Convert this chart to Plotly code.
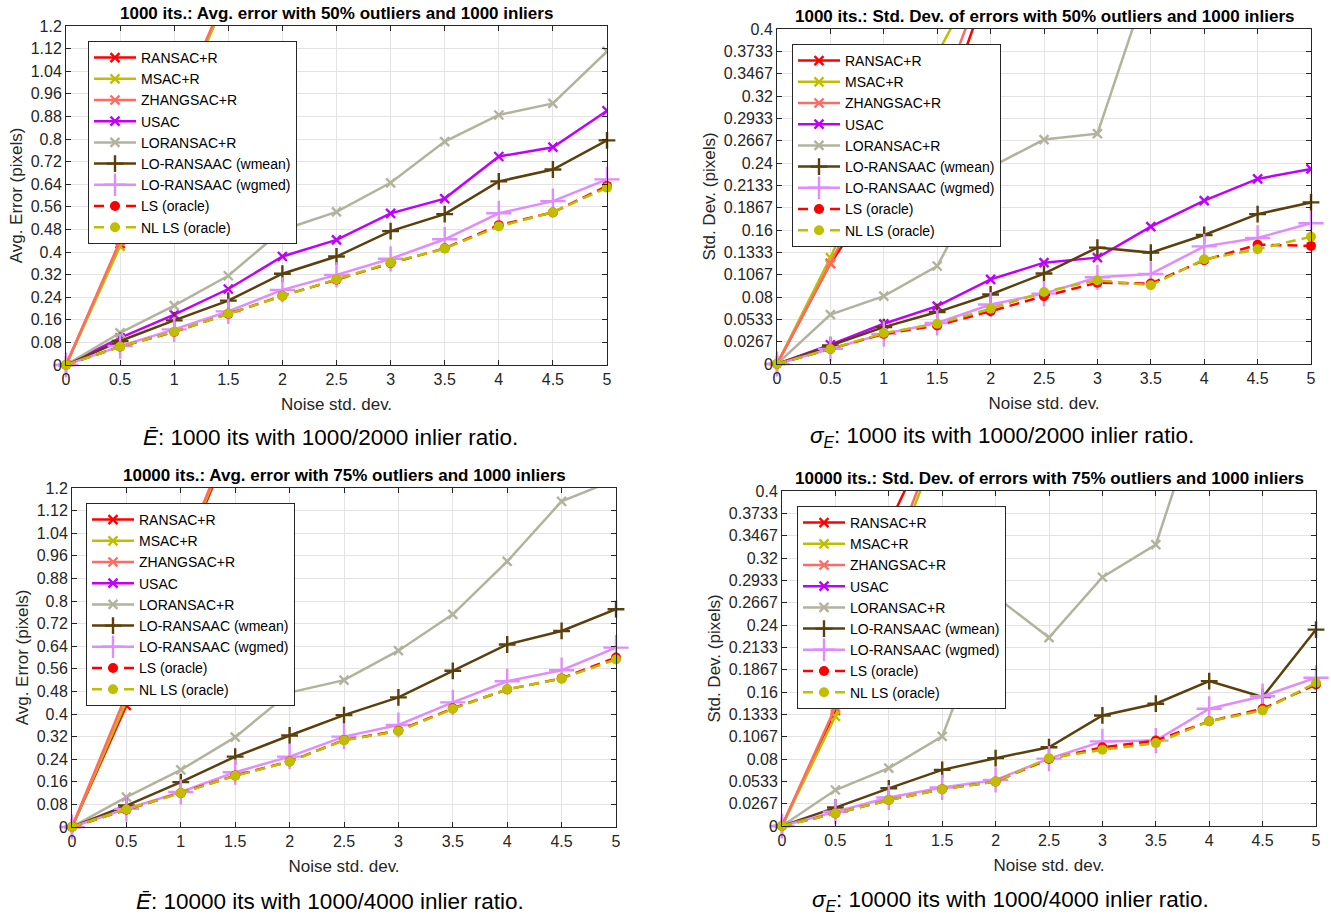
import plotly.graph_objects as go

# ---------------- data ----------------
noise = [0, 0.5, 1, 1.5, 2, 2.5, 3, 3.5, 4, 4.5, 5]

series_names = ["RANSAC+R", "MSAC+R", "ZHANGSAC+R", "USAC", "LORANSAC+R",
                "LO-RANSAAC (wmean)", "LO-RANSAAC (wgmed)", "LS (oracle)", "NL LS (oracle)"]

# Panel 1: 1000 its, avg error, 50% outliers
avg50_ransac = [0, 0.43, 0.88, 1.32]
avg50_msac = [0, 0.42, 0.87, 1.32]
avg50_zhang = [0, 0.44, 0.89, 1.33]
avg50_usac = [0, 0.096, 0.178, 0.269, 0.384, 0.443, 0.537, 0.589, 0.738, 0.771, 0.90]
avg50_loransac = [0, 0.114, 0.21, 0.316, 0.478, 0.542, 0.645, 0.791, 0.885, 0.926, 1.11]
avg50_wmean = [0, 0.085, 0.158, 0.228, 0.323, 0.384, 0.474, 0.534, 0.650, 0.692, 0.795]
avg50_wgmed = [0, 0.067, 0.126, 0.19, 0.266, 0.319, 0.376, 0.445, 0.537, 0.58, 0.657]
avg50_ls = [0, 0.065, 0.117, 0.181, 0.245, 0.302, 0.36, 0.413, 0.495, 0.54, 0.634]
avg50_nlls = [0, 0.065, 0.118, 0.182, 0.244, 0.303, 0.362, 0.412, 0.49, 0.541, 0.628]

# Panel 2: 1000 its, std dev, 50% outliers
std50_ransac = [0, 0.12, 0.215, 0.28, 0.46]
std50_msac = [0, 0.127, 0.27, 0.37, 0.49]
std50_zhang = [0, 0.12, 0.25, 0.31, 0.48]
std50_usac = [0, 0.023, 0.048, 0.069, 0.101, 0.121, 0.127, 0.164, 0.195, 0.221, 0.233]
std50_loransac = [0, 0.059, 0.081, 0.117, 0.235, 0.268, 0.275, 0.465]
std50_wmean = [0, 0.022, 0.044, 0.062, 0.083, 0.108, 0.139, 0.133, 0.154, 0.179, 0.193]
std50_wgmed = [0, 0.018, 0.036, 0.049, 0.071, 0.084, 0.1035, 0.1075, 0.1405, 0.1505, 0.168]
std50_ls = [0, 0.018, 0.036, 0.046, 0.063, 0.081, 0.097, 0.096, 0.124, 0.1425, 0.141]
std50_nlls = [0, 0.018, 0.037, 0.048, 0.066, 0.086, 0.1, 0.094, 0.125, 0.137, 0.152]

# Panel 3: 10000 its, avg error, 75% outliers
avg75_ransac = [0, 0.43, 0.93, 1.40]
avg75_msac = [0, 0.445, 0.94, 1.41]
avg75_zhang = [0, 0.47, 0.95, 1.42]
avg75_usac = []
avg75_loransac = [0, 0.106, 0.202, 0.318, 0.476, 0.52, 0.624, 0.753, 0.94, 1.153, 1.23]
avg75_wmean = [0, 0.076, 0.159, 0.249, 0.324, 0.396, 0.459, 0.553, 0.646, 0.694, 0.771]
avg75_wgmed = [0, 0.064, 0.124, 0.194, 0.249, 0.32, 0.361, 0.441, 0.516, 0.555, 0.635]
avg75_ls = [0, 0.061, 0.12, 0.182, 0.232, 0.308, 0.341, 0.42, 0.487, 0.526, 0.60]
avg75_nlls = [0, 0.062, 0.12, 0.181, 0.231, 0.307, 0.339, 0.418, 0.488, 0.525, 0.593]

# Panel 4: 10000 its, std dev, 75% outliers
std75_ransac = [0, 0.138, 0.36, 0.495]
std75_msac = [0, 0.131, 0.30, 0.47]
std75_zhang = [0, 0.142, 0.31, 0.48]
std75_usac = []
std75_loransac = [0, 0.043, 0.069, 0.107, 0.274, 0.225, 0.297, 0.336, 0.53]
std75_wmean = [0, 0.022, 0.045, 0.067, 0.081, 0.094, 0.132, 0.146, 0.173, 0.154, 0.2345]
std75_wgmed = [0, 0.017, 0.034, 0.046, 0.055, 0.0805, 0.101, 0.102, 0.14, 0.155, 0.177]
std75_ls = [0, 0.015, 0.031, 0.044, 0.053, 0.080, 0.094, 0.102, 0.125, 0.14, 0.169]
std75_nlls = [0, 0.015, 0.031, 0.044, 0.053, 0.081, 0.091, 0.099, 0.125, 0.138, 0.171]

x_ticks = [0, 0.5, 1, 1.5, 2, 2.5, 3, 3.5, 4, 4.5, 5]
x_ticktext = ["0", "0.5", "1", "1.5", "2", "2.5", "3", "3.5", "4", "4.5", "5"]
avg_ticks = [0, 0.08, 0.16, 0.24, 0.32, 0.4, 0.48, 0.56, 0.64, 0.72, 0.8, 0.88, 0.96, 1.04, 1.12, 1.2]
avg_ticktext = ["0", "0.08", "0.16", "0.24", "0.32", "0.4", "0.48", "0.56", "0.64", "0.72",
                "0.8", "0.88", "0.96", "1.04", "1.12", "1.2"]
std_ticks = [0, 0.4 / 15, 0.8 / 15, 0.08, 1.6 / 15, 2.0 / 15, 0.16, 2.8 / 15, 3.2 / 15, 0.24,
             4.0 / 15, 4.4 / 15, 0.32, 5.2 / 15, 5.6 / 15, 0.4]
std_ticktext = ["0", "0.0267", "0.0533", "0.08", "0.1067", "0.1333", "0.16", "0.1867", "0.2133",
                "0.24", "0.2667", "0.2933", "0.32", "0.3467", "0.3733", "0.4"]

titles = ["1000 its.: Avg. error with 50% outliers and 1000 inliers",
          "1000 its.: Std. Dev. of errors with 50% outliers and 1000 inliers",
          "10000 its.: Avg. error with 75% outliers and 1000 inliers",
          "10000 its.: Std. Dev. of errors with 75% outliers and 1000 inliers"]
captions = ["<i>Ē</i>: 1000 its with 1000/2000 inlier ratio.",
            "<i>σ<sub>E</sub></i>: 1000 its with 1000/2000 inlier ratio.",
            "<i>Ē</i>: 10000 its with 1000/4000 inlier ratio.",
            "<i>σ<sub>E</sub></i>: 10000 its with 1000/4000 inlier ratio."]
ylabels = ["Avg. Error (pixels)", "Std. Dev. (pixels)", "Avg. Error (pixels)", "Std. Dev. (pixels)"]
xlabel = "Noise std. dev."

panels = [
    [avg50_ransac, avg50_msac, avg50_zhang, avg50_usac, avg50_loransac, avg50_wmean, avg50_wgmed, avg50_ls, avg50_nlls],
    [std50_ransac, std50_msac, std50_zhang, std50_usac, std50_loransac, std50_wmean, std50_wgmed, std50_ls, std50_nlls],
    [avg75_ransac, avg75_msac, avg75_zhang, avg75_usac, avg75_loransac, avg75_wmean, avg75_wgmed, avg75_ls, avg75_nlls],
    [std75_ransac, std75_msac, std75_zhang, std75_usac, std75_loransac, std75_wmean, std75_wgmed, std75_ls, std75_nlls],
]

# ---------------- styles ----------------
W, H = 1331, 918
FONT = "Liberation Sans, Arial, Helvetica, sans-serif"
AX = "#262626"

colors = ["#ff0000", "#bfbf00", "#ff6b61", "#bf00ff", "#b3b39d",
          "#5c400b", "#df8cff", "#ff0000", "#bfbf00"]
symbols = ["x-thin", "x-thin", "x-thin", "x-thin", "x-thin",
           "cross-thin", "cross-thin", "circle", "circle"]
msizes = [9, 9, 9, 9, 9, 12, 18, 10, 10]
dashes = ["solid"] * 7 + ["10px,6px", "10px,6px"]
clip = [True, True, True, True, True, False, False, False, False]

# pixel boxes: x0, x1, ytop, ybottom
boxes = [(66, 607, 26, 365), (777, 1311, 29, 364), (72, 616, 488, 827), (782, 1316, 491, 826)]
legend_pos = [(88, 41), (792, 44), (86, 503), (797, 506)]
caption_pos = [(330, 437), (1002, 437), (330, 901), (1010, 901)]

fig = go.Figure()

for p in range(4):
    xa = "x" if p == 0 else f"x{p + 1}"
    ya = "y" if p == 0 else f"y{p + 1}"
    lg = "legend" if p == 0 else f"legend{p + 1}"
    for s in range(9):
        vals = panels[p][s]
        fig.add_trace(go.Scatter(
            x=noise[:len(vals)] if vals else [None], y=vals if vals else [None],
            name=series_names[s], mode="lines+markers",
            line=dict(color=colors[s], width=2.5, dash=dashes[s]),
            marker=dict(symbol=symbols[s], size=msizes[s], color=colors[s],
                        line=dict(color=colors[s], width=2.4 if "thin" in symbols[s] else 0)),
            cliponaxis=clip[s],
            xaxis=xa, yaxis=ya, legend=lg, showlegend=True,
        ))

layout = dict(
    width=W, height=H, margin=dict(l=0, r=0, t=0, b=0, autoexpand=False),
    paper_bgcolor="white", plot_bgcolor="white",
    font=dict(family=FONT, size=14, color=AX),
    annotations=[],
)

for p in range(4):
    x0, x1, yt, yb = boxes[p]
    sfx = "" if p == 0 else str(p + 1)
    is_avg = p in (0, 2)
    xaxis = dict(
        domain=[x0 / W, x1 / W], range=[0, 5], anchor="y" + sfx,
        tickvals=x_ticks, ticktext=x_ticktext, automargin=False,
        showgrid=True, gridcolor="#e3e3e3", gridwidth=1,
        showline=True, linecolor=AX, linewidth=1, mirror="ticks",
        ticks="inside", ticklen=5, tickcolor=AX, zeroline=False,
        tickfont=dict(size=16, color=AX, family=FONT),
        title=dict(text=xlabel, font=dict(size=17, color=AX, family=FONT), standoff=10),
        fixedrange=True,
    )
    yaxis = dict(
        domain=[1 - yb / H, 1 - yt / H], anchor="x" + sfx,
        range=[0, 1.2] if is_avg else [0, 0.4],
        tickvals=avg_ticks if is_avg else std_ticks,
        ticktext=avg_ticktext if is_avg else std_ticktext, automargin=False,
        showgrid=True, gridcolor="#e3e3e3", gridwidth=1,
        showline=True, linecolor=AX, linewidth=1, mirror="ticks",
        ticks="inside", ticklen=5, tickcolor=AX, zeroline=False,
        tickfont=dict(size=16, color=AX, family=FONT),
        title=dict(text=ylabels[p], font=dict(size=17, color=AX, family=FONT), standoff=3),
        fixedrange=True,
    )
    layout["xaxis" + sfx] = xaxis
    layout["yaxis" + sfx] = yaxis
    lx, ly = legend_pos[p]
    layout["legend" + sfx] = dict(
        x=lx / W, y=1 - ly / H, xanchor="left", yanchor="top",
        bgcolor="white", bordercolor=AX, borderwidth=1,
        font=dict(size=14, color="black", family=FONT),
        tracegroupgap=0, itemwidth=42,
    )
    layout["annotations"].append(dict(
        text="<b>" + titles[p] + "</b>", x=(x0 + x1) / 2 / W, y=1 - (yt - 13) / H,
        xref="paper", yref="paper", showarrow=False, xanchor="center", yanchor="middle",
        font=dict(size=17, color="black", family=FONT),
    ))
    cx, cy = caption_pos[p]
    layout["annotations"].append(dict(
        text=captions[p], x=cx / W, y=1 - cy / H,
        xref="paper", yref="paper", showarrow=False, xanchor="center", yanchor="middle",
        font=dict(size=22.5, color="black", family=FONT),
    ))

fig.update_layout(**layout)
fig.write_html("out.html")
